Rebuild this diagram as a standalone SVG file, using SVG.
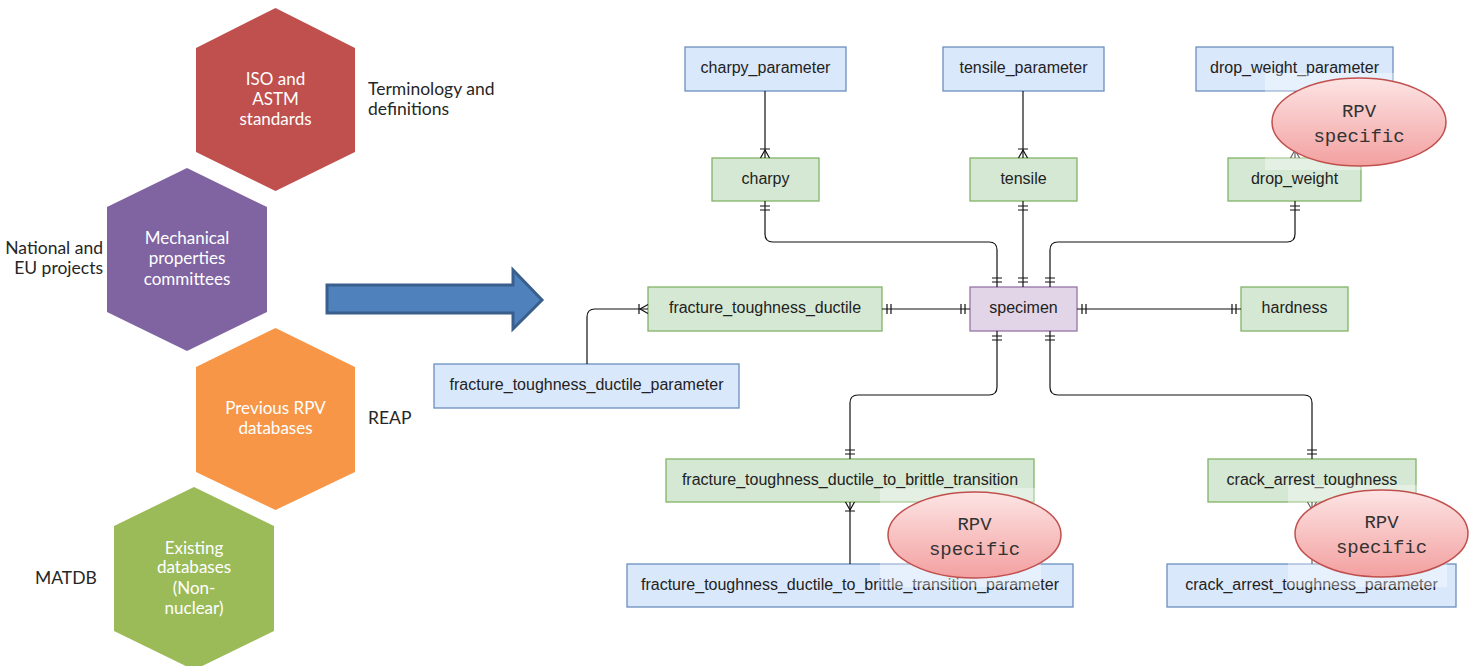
<svg xmlns="http://www.w3.org/2000/svg" width="1480" height="666" viewBox="0 0 1480 666">
<style>
.hex-t{font-family:Lato,"Open Sans",sans-serif;font-size:17px;fill:#fff;text-anchor:middle}
.side{font-family:Lato,"Open Sans",sans-serif;font-size:17.5px;fill:#262626}
.er{font-family:"Liberation Sans",Arial,sans-serif;font-size:16px;fill:#222;text-anchor:middle}
.blue{fill:#dae8fc;stroke:#6c8ebf;stroke-width:1.3}
.green{fill:#d5e8d4;stroke:#82b366;stroke-width:1.3}
.purple{fill:#e1d5e7;stroke:#9673a6;stroke-width:1.3}
.conn path{fill:none;stroke:#111;stroke-width:1.2}
.rpv{fill:url(#rpvg);stroke:#c0504d;stroke-width:1.5}
.rpv-t{font-family:"Liberation Mono","DejaVu Sans Mono",monospace;font-size:19px;fill:#333;text-anchor:middle}
.haze{fill:#fff;opacity:0.35}
</style>
<defs>
<linearGradient id="rpvg" x1="0" y1="0" x2="0" y2="1">
<stop offset="0" stop-color="#fde4e4"/>
<stop offset="1" stop-color="#f3a0a0"/>
</linearGradient>
<marker id="one" markerUnits="userSpaceOnUse" viewBox="-12 -6 14 12" refX="0" refY="0" markerWidth="14" markerHeight="12" orient="auto-start-reverse" overflow="visible">
<path d="M-5,-5 V5 M-9,-5 V5" fill="none" stroke="#111" stroke-width="1.2"/>
</marker>
<marker id="many" markerUnits="userSpaceOnUse" viewBox="-12 -6 14 12" refX="0" refY="0" markerWidth="14" markerHeight="12" orient="auto-start-reverse" overflow="visible">
<path d="M-8,0 L0,-4.5 M-8,0 L0,4.5 M-9,-5 V5" fill="none" stroke="#111" stroke-width="1.2"/>
</marker>
</defs>

<g id="hex-iso">
<polygon points="275.5,8 355,48 355,152 275.5,191 196,152 196,48" fill="#c0504d"/>
<text class="hex-t" x="275.5" y="85">ISO and</text>
<text class="hex-t" x="275.5" y="105">ASTM</text>
<text class="hex-t" x="275.5" y="125">standards</text>
</g>
<g id="label-terminology">
<text class="side" x="368" y="95">Terminology and</text>
<text class="side" x="368" y="115">definitions</text>
</g>
<g id="hex-mech">
<polygon points="187,168 267,207 267,312 187,351 107,312 107,207" fill="#8064a2"/>
<text class="hex-t" x="187" y="244">Mechanical</text>
<text class="hex-t" x="187" y="264">properties</text>
<text class="hex-t" x="187" y="285">committees</text>
</g>
<g id="label-national">
<text class="side" x="103" y="254" text-anchor="end">National and</text>
<text class="side" x="103" y="274" text-anchor="end">EU projects</text>
</g>
<g id="hex-prev">
<polygon points="275.5,328 355,367 355,472 275.5,510 196,472 196,367" fill="#f79646"/>
<text class="hex-t" x="275.5" y="414">Previous RPV</text>
<text class="hex-t" x="275.5" y="434">databases</text>
</g>
<g id="label-reap">
<text class="side" x="368" y="424">REAP</text>
</g>
<g id="hex-exist">
<polygon points="194,487 274,526 274,631 194,670 114,631 114,526" fill="#9bbb59"/>
<text class="hex-t" x="194" y="554">Existing</text>
<text class="hex-t" x="194" y="573">databases</text>
<text class="hex-t" x="194" y="594">(Non-</text>
<text class="hex-t" x="194" y="614">nuclear)</text>
</g>
<g id="label-matdb">
<text class="side" x="35" y="584">MATDB</text>
</g>
<g id="big-arrow">
<polygon points="327,285 513,285 513,270 542,300 513,329 513,313 327,313" fill="#4f81bd" stroke="#3a5f8c" stroke-width="3" stroke-linejoin="miter"/>
</g>

<g id="charpy_parameter"><rect class="blue" x="685" y="47" width="161" height="44"/><text class="er" x="765.5" y="73">charpy_parameter</text></g>
<g id="tensile_parameter"><rect class="blue" x="943" y="47" width="161" height="44"/><text class="er" x="1023.5" y="73">tensile_parameter</text></g>
<g id="drop_weight_parameter"><rect class="blue" x="1196" y="47" width="197" height="44"/><text class="er" x="1294.5" y="73">drop_weight_parameter</text></g>
<g id="charpy"><rect class="green" x="712" y="158" width="107" height="43"/><text class="er" x="765.5" y="183.5">charpy</text></g>
<g id="tensile"><rect class="green" x="970" y="158" width="107" height="43"/><text class="er" x="1023.5" y="183.5">tensile</text></g>
<g id="drop_weight"><rect class="green" x="1228" y="158" width="133" height="43"/><text class="er" x="1294.5" y="183.5">drop_weight</text></g>
<g id="fracture_toughness_ductile"><rect class="green" x="648" y="287" width="234" height="44"/><text class="er" x="765" y="313">fracture_toughness_ductile</text></g>
<g id="specimen"><rect class="purple" x="970" y="287" width="107" height="44"/><text class="er" x="1023.5" y="313">specimen</text></g>
<g id="hardness"><rect class="green" x="1241" y="287" width="107" height="44"/><text class="er" x="1294.5" y="313">hardness</text></g>
<g id="fracture_toughness_ductile_parameter"><rect class="blue" x="434" y="364" width="305" height="44"/><text class="er" x="586.5" y="390">fracture_toughness_ductile_parameter</text></g>
<g id="fracture_toughness_ductile_to_brittle_transition"><rect class="green" x="666" y="459" width="368" height="43"/><text class="er" x="850" y="484.5">fracture_toughness_ductile_to_brittle_transition</text></g>
<g id="crack_arrest_toughness"><rect class="green" x="1208" y="459" width="208" height="43"/><text class="er" x="1312" y="484.5">crack_arrest_toughness</text></g>
<g id="fracture_toughness_ductile_to_brittle_transition_parameter"><rect class="blue" x="627" y="564" width="446" height="43"/><text class="er" x="850" y="589.5">fracture_toughness_ductile_to_brittle_transition_parameter</text></g>
<g id="crack_arrest_toughness_parameter"><rect class="blue" x="1167" y="564" width="289" height="43"/><text class="er" x="1311.5" y="589.5">crack_arrest_toughness_parameter</text></g>

<g id="connectors" class="conn">
<path d="M765,91 V158" marker-end="url(#many)"/>
<path d="M1023,91 V158" marker-end="url(#many)"/>
<path d="M1295,91 V158" marker-end="url(#many)"/>
<path d="M765,201 V234 Q765,242 773,242 H989 Q997,242 997,250 V287" marker-start="url(#one)" marker-end="url(#one)"/>
<path d="M1023,201 V287" marker-start="url(#one)" marker-end="url(#one)"/>
<path d="M1295,201 V234 Q1295,242 1287,242 H1058 Q1050,242 1050,250 V287" marker-start="url(#one)" marker-end="url(#one)"/>
<path d="M882,309 H970" marker-start="url(#one)" marker-end="url(#one)"/>
<path d="M1077,309 H1241" marker-start="url(#one)" marker-end="url(#one)"/>
<path d="M997,331 V387 Q997,395 989,395 H858 Q850,395 850,403 V459" marker-start="url(#one)" marker-end="url(#one)"/>
<path d="M1050,331 V387 Q1050,395 1058,395 H1304 Q1312,395 1312,403 V459" marker-start="url(#one)" marker-end="url(#one)"/>
<path d="M587,364 V317 Q587,309 595,309 H648" marker-end="url(#many)"/>
<path d="M850,564 V502" marker-end="url(#many)"/>
<path d="M1312,564 V502" marker-end="url(#many)"/>
</g>

<g id="rpv-1">
<rect class="haze" x="1265" y="73" width="160" height="97"/>
<ellipse class="rpv" cx="1359" cy="122" rx="87" ry="44"/>
<text class="rpv-t" x="1359" y="117">RPV</text>
<text class="rpv-t" x="1359" y="142">specific</text>
</g>
<g id="rpv-2">
<rect class="haze" x="880" y="488" width="161" height="99"/>
<ellipse class="rpv" cx="974.5" cy="535" rx="86.5" ry="43"/>
<text class="rpv-t" x="974.5" y="530">RPV</text>
<text class="rpv-t" x="974.5" y="555">specific</text>
</g>
<g id="rpv-3">
<rect class="haze" x="1288" y="485" width="159" height="102"/>
<ellipse class="rpv" cx="1381.5" cy="533.5" rx="86.5" ry="43.5"/>
<text class="rpv-t" x="1381.5" y="528">RPV</text>
<text class="rpv-t" x="1381.5" y="553">specific</text>
</g>
</svg>
